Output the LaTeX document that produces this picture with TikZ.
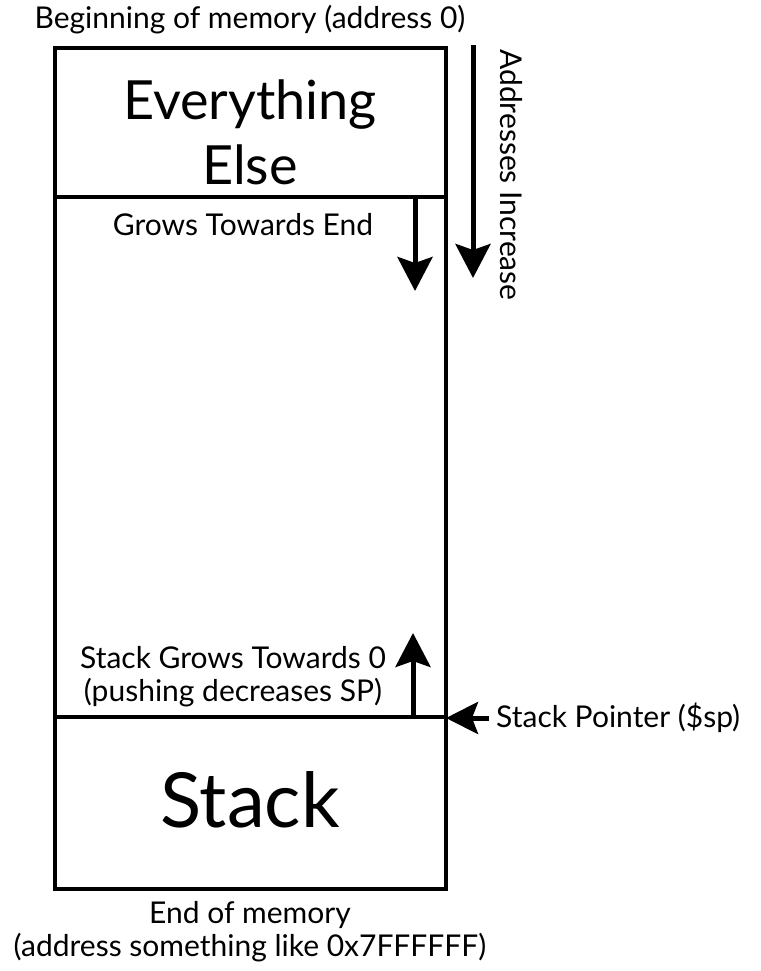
\documentclass[tikz,border=0pt]{standalone}
\usepackage{fontspec}
\setmainfont{Lato}
\usetikzlibrary{arrows.meta}
\begin{document}
\begin{tikzpicture}[x=1pt,y=-1pt,
  box/.style={draw=black,line width=4pt},
  bigarrow/.style={line width=5pt,-{Stealth[length=34pt,width=35pt,inset=6pt]}},
  lbl/.style={inner sep=0pt,font=\fontsize{30}{33}\selectfont,align=center},
  huge/.style={inner sep=0pt,font=\fontsize{54}{65}\selectfont,align=center}]
\useasboundingbox[fill=white] (0,0) rectangle (760,971);
% outer box regions
\draw[box] (55,48) rectangle (446,889);
\coordinate (d1l) at (55,197);
\coordinate (d1r) at (446,197);
\coordinate (d2l) at (55,717);
\coordinate (d2r) at (446,717);
\draw[box] (d1l) -- (d1r);
\draw[box] (d2l) -- (d2r);
% texts
\node[lbl] (begin) at (250,20) {Beginning of memory (address 0)};
\node[huge] (ee) at (250,132) {Everything\\Else};
\node[lbl] (gte) at (243,225) {Grows Towards End};
\node[lbl] (sgt) at (233,677) {Stack Grows Towards 0\\(pushing decreases SP)};
\node[inner sep=0pt,font=\fontsize{76}{80}\selectfont] (stack) at (250,800) {Stack};
\node[lbl] (end) at (250,932) {End of memory\\(address something like 0x7FFFFFF)};
\node[lbl,anchor=west] (sp) at (496,718) {Stack Pointer (\$sp)};
\node[lbl,rotate=-90] (ai) at (511,175) {Addresses Increase};
% arrows
\coordinate (g0) at (415,197);
\coordinate (g1) at (415,291);
\draw[bigarrow] (g0) -- (g1);
\coordinate (a0) at (473,45);
\coordinate (a1) at (473,278);
\draw[bigarrow] (a0) -- (a1);
\coordinate (s0) at (413,717);
\coordinate (s1) at (413,633);
\draw[bigarrow] (s0) -- (s1);
\coordinate (p0) at (489,718);
\coordinate (p1) at (446,718);
\draw[line width=5pt,-{Stealth[length=32pt,width=32pt,inset=6pt]}] (p0) -- (p1);
\end{tikzpicture}
\end{document}
